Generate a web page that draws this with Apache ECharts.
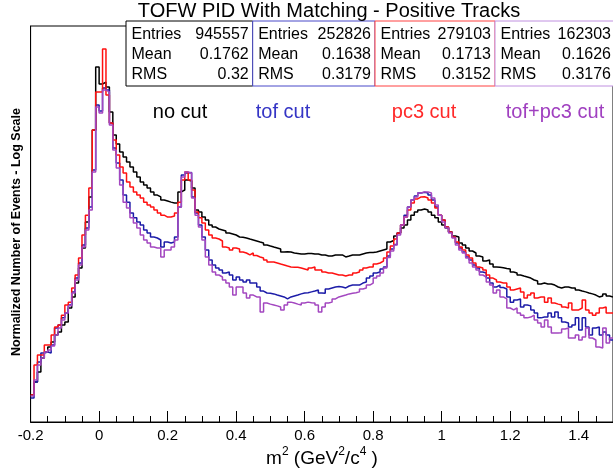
<!DOCTYPE html>
<html><head><meta charset="utf-8">
<script src="https://cdn.jsdelivr.net/npm/echarts@6/dist/echarts.min.js"></script>
<style>html,body{margin:0;padding:0;background:#fff}#c{width:613px;height:472px}</style>
</head><body><div id="c"></div>
<script>
// Histogram binning (m^2, GeV^2/c^4)
const binStart = -0.2;
const binWidth = 0.01;

// Normalized bin contents (log scale), bins -0.20 ... 1.49
const noCut = [
1.86,2.51,3.16,4.37,5.01,5.62,6.31,7.41,7.94,9.33,
10.0,13.8,17.8,24.5,34.7,55.0,100,178,832,3550,
2400,2510,2240,1260,741,603,501,447,398,355,
316,282,251,234,219,200,186,178,166,162,
158,155,155,200,209,263,257,219,132,126,
112,105,93.3,89.1,85.1,83.2,81.3,77.6,75.9,74.1,
70.8,70.3,69.2,67.6,66.1,64.6,63.1,61.7,58.9,57.5,
56.2,55.0,53.7,50.1,50.5,50.1,49.0,48.5,47.9,47.9,
48.5,48.5,47.9,47.9,46.8,46.8,45.7,45.7,46.8,46.8,
46.8,44.7,45.7,46.8,46.8,46.8,47.9,49.0,49.5,49.5,
50.1,51.3,52.5,53.7,63.1,65.3,72.4,77.6,87.1,93.3,
105,117,126,132,135,132,126,117,110,100,
93.3,87.1,79.4,72.4,70.8,61.7,58.9,55.0,51.3,49.0,
45.7,44.7,40.7,41.7,38.0,35.5,35.2,34.9,34.3,33.9,
31.6,30.9,29.5,28.8,28.2,27.5,26.3,25.7,24.0,24.5,
24.0,24.0,23.4,22.4,21.9,22.4,22.4,21.9,21.9,20.9,
20.4,20.0,19.5,19.1,18.6,17.8,18.2,19.1,18.2,17.8
];
const tofCut = [
1.74,2.51,3.98,4.90,5.01,4.90,5.89,8.71,9.33,11.0,
12.3,14.8,20.0,27.5,38.9,58.9,87.1,141,331,1480,
1290,2190,2090,977,550,389,263,186,158,123,
110,100,93.3,83.2,77.6,70.8,69.2,66.1,56.2,63.1,
61.7,63.1,70.8,141,295,309,312,178,123,93.3,
70.8,52.5,41.7,37.2,34.7,33.1,30.9,31.6,29.5,26.3,
28.2,26.3,25.1,26.3,24.5,24.5,22.4,20.4,19.5,19.4,
19.1,18.6,18.2,17.8,17.0,17.8,18.2,18.6,19.1,19.5,
19.6,20.0,20.4,20.9,19.5,19.4,21.4,21.9,22.4,22.6,
22.4,21.9,22.9,23.4,23.4,23.4,24.5,25.1,27.5,28.8,
30.9,31.6,33.9,35.5,45.7,53.7,59.6,77.6,93.3,117,
141,166,182,195,198,195,186,166,141,117,
105,89.1,79.4,70.8,61.7,55.0,50.1,44.7,41.7,37.2,
34.7,31.6,30.9,27.5,24.5,22.4,23.4,22.1,21.4,17.8,
15.8,16.6,17.0,14.1,14.8,14.5,13.2,12.3,11.0,11.2,
11.2,12.3,11.2,12.6,11.0,10.0,9.77,8.91,9.33,11.0,
8.32,11.0,8.91,7.41,8.71,8.91,7.41,7.94,7.41,6.61
];
const pc3Cut = [
1.86,3.72,4.68,4.68,5.89,5.89,7.41,8.91,9.33,11.7,
14.8,15.8,21.9,29.5,43.7,74.1,117,219,832,2000,
2000,5370,1860,977,661,468,355,309,251,224,
200,186,174,158,148,141,132,123,117,112,
112,115,123,158,263,316,263,209,126,110,
97.7,83.2,74.1,69.2,67.6,64.6,56.2,55.0,52.5,55.0,
53.7,50.1,49.0,46.8,49.0,46.2,44.7,43.7,41.7,39.8,
39.8,38.9,38.0,37.2,36.3,35.5,35.2,35.2,34.7,33.9,
33.1,34.7,35.5,33.1,33.1,31.6,30.9,30.9,30.2,29.5,
29.5,28.8,29.5,29.5,30.9,31.6,33.1,34.7,35.5,35.5,
38.0,38.9,40.7,43.7,50.1,57.5,67.6,77.6,93.3,112,
132,155,170,178,179,174,166,155,138,117,
105,89.1,79.4,70.8,63.1,56.2,52.5,46.8,43.7,38.9,
35.5,34.7,33.1,29.5,27.5,26.3,25.1,24.5,24.5,22.4,
20.9,21.4,21.9,20.0,17.4,18.6,19.5,17.4,17.8,17.8,
15.8,17.4,15.5,15.1,14.8,14.1,13.8,15.5,13.2,13.2,
13.8,16.6,13.2,12.3,11.7,12.3,13.8,14.1,12.3,12.3
];
const tofPc3Cut = [
1.82,2.63,3.72,4.37,5.01,5.25,5.75,7.41,8.71,10.5,
12.3,14.5,19.5,26.3,37.2,56.2,83.2,132,316,1410,
1230,2090,2000,933,525,347,234,158,138,110,
97.7,87.1,74.1,66.1,61.7,56.2,55.0,55.0,44.7,52.5,
52.5,56.2,66.1,141,282,316,309,174,117,89.1,
66.1,44.7,37.2,31.6,29.5,28.2,26.3,24.5,22.4,18.6,
22.4,22.4,19.5,17.4,18.6,17.8,17.8,12.6,15.5,15.1,
14.8,14.5,14.1,13.2,14.8,15.8,15.5,15.1,14.8,15.5,
15.8,15.6,15.5,14.8,12.6,14.1,15.5,15.8,17.0,17.8,
18.2,18.6,19.1,19.4,19.6,20.0,21.4,21.9,23.4,24.5,
27.5,28.8,30.9,34.7,44.2,51.3,58.9,74.1,93.3,112,
141,166,178,195,200,200,195,174,148,117,
100,87.1,77.6,69.2,58.9,52.5,49.0,43.7,38.9,35.5,
33.1,29.5,28.2,25.1,23.4,19.5,20.9,17.8,17.0,13.8,
13.2,13.8,12.3,11.7,11.0,11.2,11.7,10.5,9.77,8.91,
10.5,8.91,7.76,7.76,7.80,8.51,8.71,6.92,6.92,7.41,
6.61,7.08,8.71,6.92,6.61,5.62,5.50,8.71,6.17,6.92
];

const seriesNames = ['no cut', 'tof cut', 'pc3 cut', 'tof+pc3 cut'];
const statEntries = ['945557', '252826', '279103', '162303'];
const statMean = ['0.1762', '0.1638', '0.1713', '0.1626'];
const statRms = ['0.32', '0.3179', '0.3152', '0.3176'];
const titleText = 'TOFW PID With Matching - Positive Tracks';
const yTitle = 'Normalized Number of Events - Log Scale';

const FONT = "'Liberation Sans', Arial, Helvetica, sans-serif";
const lineColors = ['#000000', '#1c1ca8', '#ff1010', '#a347c0'];
const textColors = ['#000000', '#3535c5', '#ff2a2a', '#a040c0'];
const boxColors = ['#000000', '#4848c8', '#ff4040', '#c090e0'];

function toSteps(vals) {
  const pts = vals.map((v, i) => [+(binStart + i * binWidth).toFixed(2), v]);
  pts.push([+(binStart + vals.length * binWidth).toFixed(2), vals[vals.length - 1]]);
  return pts;
}

const allSeries = [noCut, tofCut, pc3Cut, tofPc3Cut];

const chart = echarts.init(document.getElementById('c'), null, {renderer: 'canvas'});

// stat boxes
const boxX = [126, 252.7, 375, 495];
const boxW = [126.7, 122.3, 120, 125];
const boxY = 21, boxH = 65;
const graphics = [];
for (let k = 0; k < 4; k++) {
  graphics.push({type: 'rect', z: 100, shape: {x: boxX[k], y: boxY, width: boxW[k], height: boxH},
    style: {fill: '#fff', stroke: boxColors[k], lineWidth: 1}});
}
const rowLabels = ['Entries', 'Mean', 'RMS'];
for (let k = 0; k < 4; k++) {
  const vals = [statEntries[k], statMean[k], statRms[k]];
  for (let r = 0; r < 3; r++) {
    graphics.push({type: 'text', z: 101, x: boxX[k] + 5.5, y: 35 + r * 20,
      style: {text: rowLabels[r], fill: '#000', font: '16px ' + FONT, align: 'left', verticalAlign: 'middle'}});
    graphics.push({type: 'text', z: 101, x: Math.min(boxX[k] + boxW[k] - 4, 611), y: 35 + r * 20,
      style: {text: vals[r], fill: '#000', font: '16px ' + FONT, align: 'right', verticalAlign: 'middle'}});
  }
}
// title
graphics.push({type: 'text', z: 101, x: 329, y: 11,
  style: {text: titleText, fill: '#000', font: '20px ' + FONT, align: 'center', verticalAlign: 'middle'}});
// legend-like labels
const labelX = [180, 283, 424, 555];
for (let k = 0; k < 4; k++) {
  graphics.push({type: 'text', z: 101, x: labelX[k], y: 112,
    style: {text: seriesNames[k], fill: textColors[k], font: '20px ' + FONT, align: 'center', verticalAlign: 'middle'}});
}
// y axis title
graphics.push({type: 'text', z: 101, x: 17, y: 232, rotation: Math.PI / 2,
  style: {text: yTitle, fill: '#000', font: 'bold 12.5px ' + FONT, align: 'center', verticalAlign: 'middle'}});
// x axis title
graphics.push({type: 'text', z: 101, x: 322, y: 457,
  style: {text: '{a|m}{s|2}{a| (GeV}{s|2}{a|/c}{s|4}{a| )}', fill: '#000', align: 'center', verticalAlign: 'middle',
    rich: {a: {fontSize: 19, fontFamily: FONT, lineHeight: 22, verticalAlign: 'bottom'},
           s: {fontSize: 12, fontFamily: FONT, lineHeight: 12, verticalAlign: 'top'}}}});

chart.setOption({
  animation: false,
  backgroundColor: '#fff',
  grid: {left: 30.6, top: 26, width: 584, height: 396, show: true, borderColor: '#000', borderWidth: 1},
  xAxis: {
    type: 'value', min: -0.2, max: 1.5, interval: 0.2,
    axisLine: {show: true, onZero: false, lineStyle: {color: '#000', width: 1}},
    axisTick: {show: true, inside: true, length: 11, lineStyle: {color: '#000', width: 1}},
    minorTick: {show: true, splitNumber: 4, length: 6, lineStyle: {color: '#000', width: 1}},
    axisLabel: {color: '#000', fontSize: 15, fontFamily: FONT, margin: 6, showMaxLabel: false},
    splitLine: {show: false}, minorSplitLine: {show: false}
  },
  yAxis: {
    type: 'log', logBase: 10, min: 1, max: 9120,
    axisLine: {show: true, onZero: false, lineStyle: {color: '#000', width: 1}},
    axisTick: {show: false}, axisLabel: {show: false}, splitLine: {show: false}
  },
  series: allSeries.map((vals, k) => ({
    name: seriesNames[k], type: 'line', step: 'end', symbol: 'none', showSymbol: false,
    data: toSteps(vals), lineStyle: {color: lineColors[k], width: 1.5}, z: 2 + k, clip: true
  })),
  graphic: graphics
});
</script></body></html>
